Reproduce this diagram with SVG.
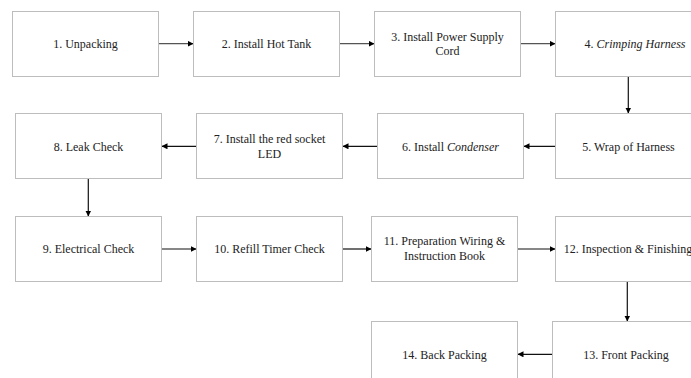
<svg xmlns="http://www.w3.org/2000/svg" width="691" height="378" viewBox="0 0 691 378">
<defs>
<style>
.box{fill:#fff;stroke:#bdbdbd;stroke-width:1}
.t{font-family:"Liberation Serif","Times New Roman",serif;font-size:12px;fill:#222;text-anchor:middle}
.c{stroke:#111;stroke-width:1.2;fill:none;marker-end:url(#ah)}
.g{stroke:#555}
</style>
<marker id="ah" viewBox="0 0 10 10" refX="10" refY="5" markerWidth="6" markerHeight="6" markerUnits="userSpaceOnUse" orient="auto">
<path d="M0,0 L10,5 L0,10 Z" fill="#000"/>
</marker>
</defs>
<rect width="691" height="378" fill="#fff"/>
<g id="connectors">
<line class="c g" x1="158.5" y1="43.7" x2="193.5" y2="43.7"/>
<line class="c g" x1="339.5" y1="43.7" x2="374.5" y2="43.7"/>
<line class="c g" x1="520.5" y1="43.7" x2="555.5" y2="43.7"/>
<line class="c" x1="628.3" y1="76.5" x2="628.3" y2="113.5"/>
<line class="c" x1="555.5" y1="146.3" x2="523.5" y2="146.3"/>
<line class="c" x1="377.5" y1="146.3" x2="342.5" y2="146.3"/>
<line class="c" x1="196.5" y1="146.3" x2="161.5" y2="146.3"/>
<line class="c" x1="88.3" y1="178.5" x2="88.3" y2="216.5"/>
<line class="c" x1="161.5" y1="249" x2="196.5" y2="249"/>
<line class="c" x1="342.5" y1="249" x2="371.5" y2="249"/>
<line class="c" x1="517.5" y1="249" x2="555.5" y2="249"/>
<line class="c" x1="627.3" y1="281.5" x2="627.3" y2="321.5"/>
<line class="c" x1="552.5" y1="354.3" x2="517.5" y2="354.3"/>
</g>
<g id="n1"><rect class="box" x="12.5" y="11.5" width="146" height="65"/><text class="t" x="85.5" y="48">1. Unpacking</text></g>
<g id="n2"><rect class="box" x="193.5" y="11.5" width="146" height="65"/><text class="t" x="266.5" y="48">2. Install Hot Tank</text></g>
<g id="n3"><rect class="box" x="374.5" y="11.5" width="146" height="65"/><text class="t" x="447.5" y="40.5">3. Install Power Supply</text><text class="t" x="447.5" y="55">Cord</text></g>
<g id="n4"><rect class="box" x="555.5" y="11.5" width="146" height="65"/><text class="t" x="635" y="48">4. <tspan font-style="italic">Crimping Harness</tspan></text></g>
<g id="n5"><rect class="box" x="555.5" y="113.5" width="146" height="65"/><text class="t" x="628.5" y="150.5">5. Wrap of Harness</text></g>
<g id="n6"><rect class="box" x="377.5" y="113.5" width="146" height="65"/><text class="t" x="450.5" y="150.5">6. Install <tspan font-style="italic">Condenser</tspan></text></g>
<g id="n7"><rect class="box" x="196.5" y="113.5" width="146" height="65"/><text class="t" x="269.5" y="143">7. Install the red socket</text><text class="t" x="269.5" y="157.5">LED</text></g>
<g id="n8"><rect class="box" x="15.5" y="113.5" width="146" height="65"/><text class="t" x="88.5" y="150.5">8. Leak Check</text></g>
<g id="n9"><rect class="box" x="15.5" y="216.5" width="146" height="65"/><text class="t" x="88.5" y="253.3">9. Electrical Check</text></g>
<g id="n10"><rect class="box" x="196.5" y="216.5" width="146" height="65"/><text class="t" x="269.5" y="253.3">10. Refill Timer Check</text></g>
<g id="n11"><rect class="box" x="371.5" y="216.5" width="146" height="65"/><text class="t" x="444.5" y="245.3">11. Preparation Wiring &amp;</text><text class="t" x="444.5" y="259.8">Instruction Book</text></g>
<g id="n12"><rect class="box" x="555.5" y="216.5" width="146" height="65"/><text class="t" x="628" y="253.3">12. Inspection &amp; Finishing</text></g>
<g id="n13"><rect class="box" x="552.5" y="321.5" width="146" height="65"/><text class="t" x="626" y="358.5">13. Front Packing</text></g>
<g id="n14"><rect class="box" x="371.5" y="321.5" width="146" height="65"/><text class="t" x="444.5" y="358.5">14. Back Packing</text></g>
</svg>
